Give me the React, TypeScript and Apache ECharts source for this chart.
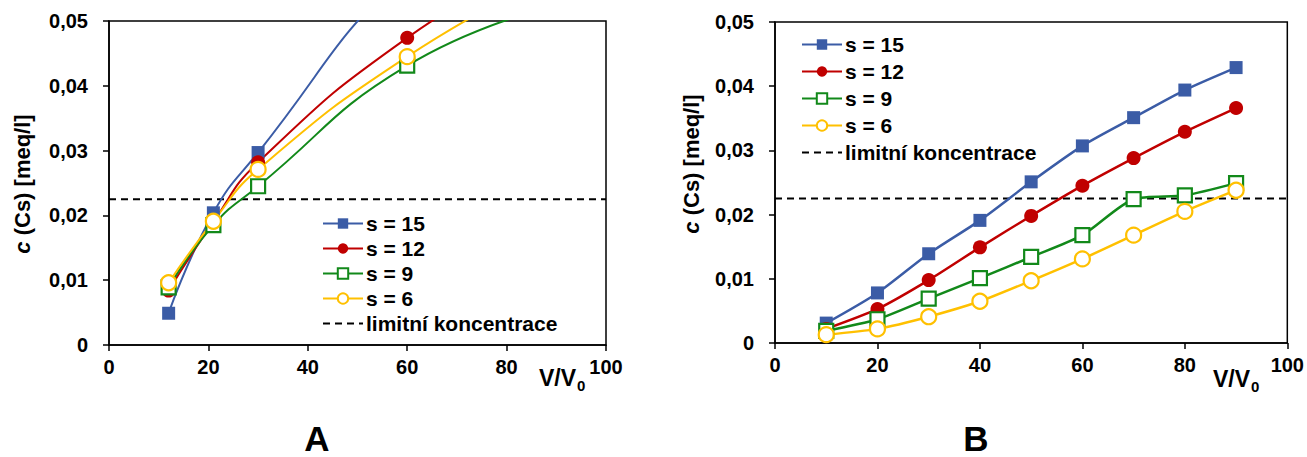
import React, { useEffect, useRef } from "react";
import * as echarts from "echarts";

// ---- data ----
const xA = [12, 21, 30, 60, 90];
const aS15 = [0.0049, 0.0204, 0.0297, 0.058, 0.075];
const aS12 = [0.0084, 0.019, 0.0282, 0.0474, 0.061];
const aS9 = [0.0089, 0.0185, 0.0245, 0.0431, 0.0525];
const aS6 = [0.0096, 0.0191, 0.0271, 0.0445, 0.0575];

const xB = [10, 20, 30, 40, 50, 60, 70, 80, 90];
const bS15 = [0.0031, 0.0078, 0.0139, 0.0191, 0.0251, 0.0307, 0.0351, 0.0394, 0.0429];
const bS12 = [0.0022, 0.0053, 0.0098, 0.0149, 0.0198, 0.0245, 0.0288, 0.0329, 0.0366];
const bS9 = [0.0019, 0.0037, 0.0069, 0.0101, 0.0134, 0.0168, 0.0224, 0.023, 0.0249];
const bS6 = [0.0013, 0.0022, 0.0041, 0.0065, 0.0097, 0.0131, 0.0168, 0.0205, 0.0238];

const limit = 0.0225;
const seriesNames = ["s = 15", "s = 12", "s = 9", "s = 6", "limitní koncentrace"];
const panelLabels = ["A", "B"];

const FONT = "Arial, 'Liberation Sans', sans-serif";
const BLUE = "#3B5CA6";
const RED = "#C00000";
const GREEN = "#12891A";
const YELLOW = "#FFC000";

const pair = (xs: number[], ys: number[]) => xs.map((x, i) => [x, ys[i]]);

function makeSeries(gi: number, xs: number[], s15: number[], s12: number[], s9: number[], s6: number[], smooth: number | boolean, lw: number) {
  const base = (name: string, data: number[][], symbol: string, color: string, hollow: boolean, size: number) => ({
    type: "line",
    name,
    xAxisIndex: gi,
    yAxisIndex: gi,
    data,
    smooth,
    clip: true,
    symbol,
    symbolSize: size,
    showAllSymbol: true,
    lineStyle: { color, width: lw },
    itemStyle: hollow
      ? { color: "#ffffff", borderColor: color, borderWidth: 2.2 }
      : { color, borderColor: color, borderWidth: 0 },
    z: 3,
  });
  return [
    base(seriesNames[0], pair(xs, s15), "rect", BLUE, false, 13),
    base(seriesNames[1], pair(xs, s12), "circle", RED, false, 14),
    base(seriesNames[2], pair(xs, s9), "rect", GREEN, true, 14),
    base(seriesNames[3], pair(xs, s6), "circle", YELLOW, true, 15),
    {
      type: "line",
      name: seriesNames[4],
      xAxisIndex: gi,
      yAxisIndex: gi,
      data: [[0, limit], [100, limit]],
      symbol: "none",
      lineStyle: { color: "#000", width: 2, type: [7, 5] },
      itemStyle: { color: "rgba(0,0,0,0)", borderWidth: 0 },
      z: 2,
    },
  ];
}

const axisCommon = {
  axisLine: { show: true, onZero: false, lineStyle: { color: "#000", width: 1.5 } },
  axisTick: { show: true, inside: false, length: 6, lineStyle: { color: "#000", width: 1.5 } },
  splitLine: { show: false },
};

export default function App() {
  const ref = useRef<HTMLDivElement>(null);
  useEffect(() => {
    if (!ref.current) return;
    const chart = echarts.init(ref.current, null, { renderer: "svg" });
    const xAxisOf = (gi: number) => ({
      type: "value",
      gridIndex: gi,
      min: 0,
      max: 100,
      interval: 20,
      ...axisCommon,
      axisLabel: { color: "#000", fontFamily: FONT, fontWeight: "bold", fontSize: 20, margin: 12 },
    });
    const yAxisOf = (gi: number) => ({
      type: "value",
      gridIndex: gi,
      min: 0,
      max: 0.05,
      interval: 0.01,
      ...axisCommon,
      axisLabel: {
        color: "#000",
        fontFamily: FONT,
        fontWeight: "bold",
        fontSize: 20,
        margin: 21,
        formatter: (v: number) => (v === 0 ? "0" : v.toFixed(2).replace(".", ",")),
      },
    });
    const legendOf = (left: number, top: number, gap: number) => ({
      orient: "vertical",
      left,
      top,
      itemWidth: 40,
      itemHeight: 13,
      itemGap: gap,
      padding: 0,
      selectedMode: false,
      data: seriesNames.map((n, i) =>
        i === 4 ? { name: n, itemStyle: { color: "rgba(0,0,0,0)", borderWidth: 0, opacity: 0 } } : { name: n }
      ),
      textStyle: { color: "#000", fontFamily: FONT, fontWeight: "bold", fontSize: 21, lineHeight: 20, padding: [0, 0, 0, -2] },
    });
    const yTitleText = (x: number, y: number) => ({
      type: "text",
      x,
      y,
      rotation: Math.PI / 2,
      style: {
        text: "{i|c} (Cs) [meq/l]",
        fontFamily: FONT,
        fontWeight: "bold",
        fontSize: 22,
        fill: "#000",
        align: "center",
        verticalAlign: "middle",
        rich: {
          i: { fontStyle: "italic", fontWeight: "bold", fontFamily: FONT, fontSize: 22, fill: "#000" },
        },
      },
    });
    const xTitleText = (x: number, y: number) => ({
      type: "text",
      x,
      y,
      style: {
        text: "V/V{s|0}",
        fontFamily: FONT,
        fontWeight: "bold",
        fontSize: 23,
        fill: "#000",
        align: "left",
        verticalAlign: "middle",
        rich: {
          s: { fontSize: 15, fontWeight: "bold", fontFamily: FONT, fill: "#000", padding: [15, 0, 0, 1] },
        },
      },
    });
    const panelText = (x: number, y: number, t: string) => ({
      type: "text",
      x,
      y,
      style: {
        text: t,
        fontFamily: FONT,
        fontWeight: "bold",
        fontSize: 35,
        lineHeight: 34,
        fill: "#000",
        align: "center",
        verticalAlign: "middle",
      },
    });
    chart.setOption({
      animation: false,
      backgroundColor: "#ffffff",
      grid: [
        { left: 109, top: 21, width: 497, height: 324, show: true, borderColor: "#000", borderWidth: 1.5, backgroundColor: "transparent" },
        { left: 775, top: 22, width: 513, height: 321, show: true, borderColor: "#000", borderWidth: 1.5, backgroundColor: "transparent" },
      ],
      xAxis: [xAxisOf(0), xAxisOf(1)],
      yAxis: [yAxisOf(0), yAxisOf(1)],
      legend: [legendOf(322, 213, 4), legendOf(801, 34, 6)],
      series: [
        ...makeSeries(0, xA, aS15, aS12, aS9, aS6, 0.5, 2),
        ...makeSeries(1, xB, bS15, bS12, bS9, bS6, 0.25, 2.5),
      ],
      graphic: [
        yTitleText(22, 184),
        yTitleText(691, 164),
        xTitleText(539, 378),
        xTitleText(1213, 379),
        panelText(317, 438, panelLabels[0]),
        panelText(976, 438, panelLabels[1]),
      ],
    });
    return () => chart.dispose();
  }, []);
  return <div ref={ref} style={{ position: "fixed", left: 0, top: 0, width: 1307, height: 457 }} />;
}
